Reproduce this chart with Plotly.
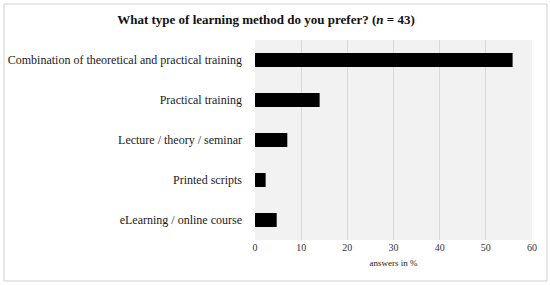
import plotly.graph_objects as go

categories = [
    "Combination of theoretical and practical training",
    "Practical training",
    "Lecture / theory / seminar",
    "Printed scripts",
    "eLearning / online course",
]
answers_pct = [55.8, 14.0, 7.0, 2.3, 4.7]
x_ticks = [0, 10, 20, 30, 40, 50, 60]

SERIF = "Liberation Serif, DejaVu Serif, serif"

fig = go.Figure(
    go.Bar(
        x=answers_pct,
        y=categories,
        orientation="h",
        width=0.35,
        marker=dict(color="#000000", line=dict(width=0)),
        hoverinfo="x+y",
    )
)

# plot area spans x 255..532, y 40..240 px
L, R, T, B = 255, 18, 40, 45
W, H = 550 - L - R, 285 - T - B


def px_x(px):
    return (px - L) / W


def px_y(py):
    return (285 - B - py) / H


fig.update_layout(
    width=550,
    height=285,
    margin=dict(l=L, r=R, t=T, b=B, autoexpand=False),
    paper_bgcolor="#ffffff",
    plot_bgcolor="#f2f2f2",
    showlegend=False,
    title=dict(
        text="<b>What type of learning method do you prefer? (<i>n</i> = 43)</b>",
        x=266 / 550,
        xref="container",
        xanchor="center",
        y=1 - 19 / 285,
        yanchor="middle",
        font=dict(family=SERIF, size=13, color="#111111"),
    ),
    xaxis=dict(
        range=[0, 60],
        tickvals=x_ticks,
        ticktext=[str(v) for v in x_ticks],
        showgrid=True,
        gridcolor="#d9d9d9",
        gridwidth=1,
        zeroline=False,
        showline=False,
        ticks="",
        automargin=False,
        tickfont=dict(family=SERIF, size=10, color="#333333"),
        title=dict(
            text="answers in %",
            font=dict(family=SERIF, size=9, color="#222222"),
            standoff=7,
        ),
        fixedrange=True,
    ),
    yaxis=dict(
        autorange="reversed",
        showgrid=False,
        zeroline=False,
        showline=False,
        ticks="",
        automargin=False,
        ticklabelstandoff=12,
        tickfont=dict(family=SERIF, size=12, color="#1a1a1a"),
        fixedrange=True,
    ),
    shapes=[
        dict(
            type="rect",
            xref="paper",
            yref="paper",
            x0=px_x(4),
            x1=px_x(547),
            y0=px_y(281),
            y1=px_y(4),
            line=dict(color="#d0d0d0", width=1),
            fillcolor="rgba(0,0,0,0)",
            layer="below",
        )
    ],
)

fig.write_html("out.html")
